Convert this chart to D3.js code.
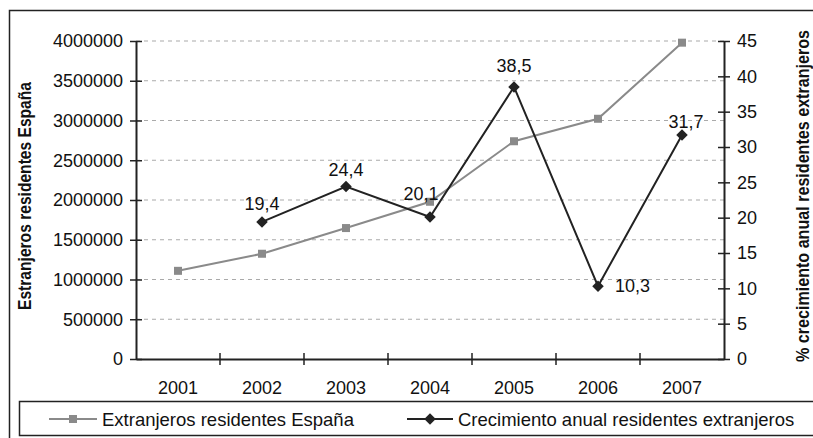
<!DOCTYPE html>
<html><head><meta charset="utf-8">
<script src="https://cdn.jsdelivr.net/npm/d3@7"></script>
<style>
html,body{margin:0;padding:0;background:#fff;}
svg{display:block;font-family:"Liberation Sans",Arial,sans-serif;}
</style></head><body>
<svg id="chart" width="813" height="438"></svg>
<script>
const years = ["2001","2002","2003","2004","2005","2006","2007"];
const residentes = [1109060,1324001,1647011,1977946,2738932,3021808,3979014];
const crecimiento = [null,19.4,24.4,20.1,38.5,10.3,31.7];
const crecimientoLabels = ["","19,4","24,4","20,1","38,5","10,3","31,7"];
const leftTicks = [0,500000,1000000,1500000,2000000,2500000,3000000,3500000,4000000];
const rightTicks = [0,5,10,15,20,25,30,35,40,45];
const seriesNames = ["Extranjeros residentes España","Crecimiento anual residentes extranjeros"];
const leftTitle = "Estranjeros residentes España";
const rightTitle = "% crecimiento anual residentes extranjeros";

// label offsets relative to the point (layout only)
const labelOffsets = [null,[0,-12,"middle"],[0,-11,"middle"],[-9,-17,"middle"],[0,-15,"middle"],[17,6,"start"],[4,-7,"middle"]];

const svg = d3.select("#chart");
const L = 136, R = 724, T = 41, B = 359;
const FS = 18;

// outer border
svg.append("rect").attr("x",9.5).attr("y",10.5).attr("width",830).attr("height",460)
  .attr("fill","none").attr("stroke","#222").attr("stroke-width",1.5);

const x = d3.scaleBand().domain(years).range([L,R]).padding(0);
const yL = d3.scaleLinear().domain([0,4000000]).range([B,T]);
const yR = d3.scaleLinear().domain([0,45]).range([B,T]);

// gridlines
svg.append("g").selectAll("line").data(leftTicks.filter(d=>d>0)).join("line")
  .attr("x1",L).attr("x2",R).attr("y1",d=>yL(d)).attr("y2",d=>yL(d))
  .attr("stroke","#aaa").attr("stroke-width",1.2).attr("stroke-dasharray","4,4");

// left axis
const gL = svg.append("g").attr("transform",`translate(${L},0)`)
  .call(d3.axisLeft(yL).tickValues(leftTicks).tickFormat(d3.format("d")).tickSize(6).tickPadding(7).tickSizeOuter(0));
gL.selectAll(".tick").append("line").attr("x1",0).attr("x2",6).attr("stroke","#222");
// right axis
const gR = svg.append("g").attr("transform",`translate(${R},0)`)
  .call(d3.axisRight(yR).tickValues(rightTicks).tickFormat(d3.format("d")).tickSize(6).tickPadding(7).tickSizeOuter(0));
gR.selectAll(".tick").append("line").attr("x1",0).attr("x2",-6).attr("stroke","#222");
// x axis
const gX = svg.append("g").attr("transform",`translate(0,${B})`)
  .call(d3.axisBottom(x).tickSize(0).tickPadding(22).tickSizeOuter(0));
gX.append("g").selectAll("line").data(years.slice(1)).join("line")
  .attr("x1",d=>x(d)).attr("x2",d=>x(d)).attr("y1",-6).attr("y2",6).attr("stroke","#222");

[gL,gR,gX].forEach(g=>{
  g.selectAll("path.domain").attr("stroke","#222").attr("stroke-width",2);
  g.selectAll("text").attr("font-size",FS).attr("fill","#111").attr("font-family","Liberation Sans, Arial, sans-serif");
  g.selectAll("line").attr("stroke","#222").attr("stroke-width",1.5);
});

// axis titles
svg.append("text").attr("transform",`translate(31,196) rotate(-90)`)
  .attr("text-anchor","middle").attr("font-size",17.5).attr("font-weight","bold")
  .attr("textLength",228).attr("lengthAdjust","spacingAndGlyphs").attr("fill","#111")
  .text(leftTitle);
svg.append("text").attr("transform",`translate(809,196) rotate(-90)`)
  .attr("text-anchor","middle").attr("font-size",17.5).attr("font-weight","bold")
  .attr("textLength",332).attr("lengthAdjust","spacingAndGlyphs").attr("fill","#111")
  .text(rightTitle);

const cx = d => x(d) + x.bandwidth()/2;

// series 1
const line1 = d3.line().x((d,i)=>cx(years[i])).y(d=>yL(d));
svg.append("path").datum(residentes).attr("d",line1).attr("fill","none")
  .attr("stroke","#8a8a8a").attr("stroke-width",2);
svg.append("g").selectAll("rect").data(residentes).join("rect")
  .attr("x",(d,i)=>cx(years[i])-4).attr("y",d=>yL(d)-4).attr("width",8).attr("height",8)
  .attr("fill","#8a8a8a");

// series 2
const pts2 = years.map((y,i)=>({y,v:crecimiento[i],lab:crecimientoLabels[i],off:labelOffsets[i]})).filter(d=>d.v!=null);
const line2 = d3.line().x(d=>cx(d.y)).y(d=>yR(d.v));
svg.append("path").datum(pts2).attr("d",line2).attr("fill","none")
  .attr("stroke","#222").attr("stroke-width",2);
svg.append("g").selectAll("path").data(pts2).join("path")
  .attr("transform",d=>`translate(${cx(d.y)},${yR(d.v)}) rotate(45)`)
  .attr("d",d3.symbol().type(d3.symbolSquare).size(66)).attr("fill","#222");
svg.append("g").selectAll("text").data(pts2).join("text")
  .attr("x",d=>cx(d.y)+d.off[0]).attr("y",d=>yR(d.v)+d.off[1])
  .attr("text-anchor",d=>d.off[2]).attr("font-size",FS).attr("fill","#111")
  .text(d=>d.lab);

// legend
svg.append("rect").attr("x",19.5).attr("y",401.5).attr("width",820).attr("height",34)
  .attr("fill","none").attr("stroke","#222").attr("stroke-width",1.5);
const leg = [{x1:49,x2:97,tx:102,c:"#8a8a8a",m:"sq"},{x1:407,x2:453,tx:458,c:"#222",m:"di"}];
leg.forEach((l,i)=>{
  const yy = 419;
  svg.append("line").attr("x1",l.x1).attr("x2",l.x2).attr("y1",yy).attr("y2",yy)
    .attr("stroke",l.c).attr("stroke-width",2);
  const mx=(l.x1+l.x2)/2;
  if(l.m==="sq") svg.append("rect").attr("x",mx-4).attr("y",yy-4).attr("width",8).attr("height",8).attr("fill",l.c);
  else svg.append("path").attr("transform",`translate(${mx},${yy}) rotate(45)`).attr("d",d3.symbol().type(d3.symbolSquare).size(66)).attr("fill",l.c);
  svg.append("text").attr("x",l.tx).attr("y",yy+6.5).attr("font-size",18.5).attr("fill","#111").text(seriesNames[i]);
});
</script>
</body></html>
